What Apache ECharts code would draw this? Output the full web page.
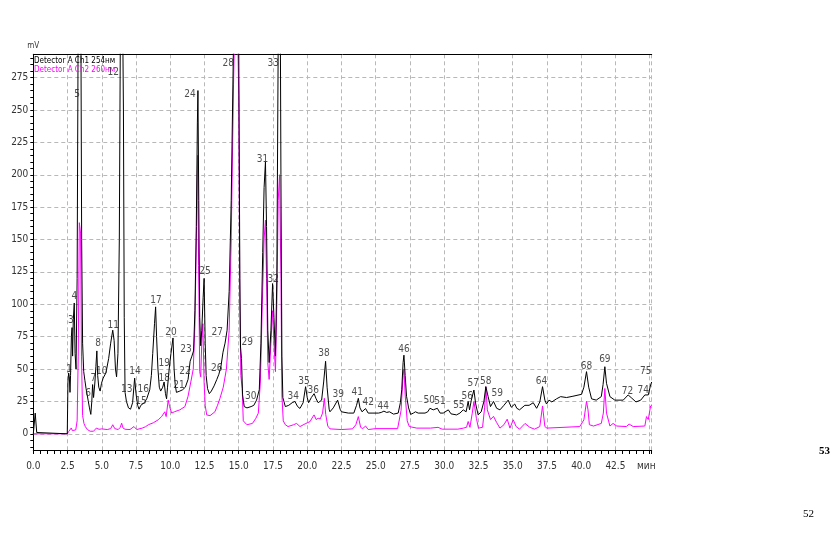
<!DOCTYPE html>
<html><head><meta charset="utf-8">
<script src="https://cdn.jsdelivr.net/npm/echarts@6/dist/echarts.min.js"></script>
<style>html,body{margin:0;padding:0;background:#fff}#c{width:840px;height:556px}</style>
</head><body><div id="c"></div>
<script>
const ch1Name = 'Detector A Ch1 254нм';
const ch2Name = 'Detector A Ch2 260нм';
const xMin = 0, xMax = 45.15, xStep = 2.5;
const yMin = -12.5, yMax = 293;
const yTicksMajor = [0,25,50,75,100,125,150,175,200,225,250,275];
const yTicksMinor = [-10,-5,0,5,10,15,20,25,30,35,40,45,50,55,60,65,70,75,80,85,90,95,100,105,110,115,120,125,130,135,140,145,150,155,160,165,170,175,180,185,190,195,200,205,210,215,220,225,230,235,240,245,250,255,260,265,270,275,280,285,290];

// Ch1 (254 nm) — [time min, mV]
const ch1 = [[0,0],[0.12,0],[0.14,16],[0.22,16],[0.25,1],[0.35,0],[2.48,0],
[2.53,40],[2.58,47],[2.63,44],[2.68,32],[2.72,45],[2.78,75],[2.83,82],[2.87,60],[2.92,88],[2.99,101],[3.05,62],[3.12,50],[3.2,120],[3.28,330],[3.38,420],[3.47,330],[3.53,150],[3.6,70],[3.68,48],[3.77,41],[3.85,35],[3.92,34],[4.0,26],[4.1,20],[4.2,15],[4.27,25],[4.33,38],[4.4,28],[4.5,40],[4.57,52],[4.64,64],[4.7,45],[4.78,36],[4.88,33],[4.98,39],[5.1,43],[5.3,47],[5.5,58],[5.65,70],[5.8,80],[5.9,72],[6.0,50],[6.08,44],[6.18,62],[6.28,150],[6.38,360],[6.48,380],[6.58,250],[6.64,90],[6.7,32],[6.8,25],[6.95,20],[7.1,19],[7.25,24],[7.4,43],[7.5,31],[7.62,22],[7.72,19],[7.85,22],[7.95,21],[8.1,24],[8.28,27],[8.5,34],[8.62,45],[8.72,62],[8.85,85],[8.93,98],[9.0,75],[9.1,50],[9.2,36],[9.3,33],[9.45,36],[9.55,40],[9.65,31],[9.73,27],[9.8,36],[9.92,50],[10.05,62],[10.2,74],[10.28,50],[10.36,38],[10.45,32],[10.7,33],[10.9,34],[11.1,36],[11.3,42],[11.45,56],[11.58,60],[11.7,64],[11.8,95],[11.9,160],[11.98,240],[12.02,265],[12.08,180],[12.15,90],[12.22,68],[12.3,80],[12.4,105],[12.47,120],[12.55,70],[12.62,45],[12.72,35],[12.85,31],[13.0,33],[13.2,37],[13.4,42],[13.55,46],[13.7,52],[13.85,63],[14.0,70],[14.15,80],[14.3,110],[14.45,180],[14.6,290],[14.8,420],[15.0,300],[15.08,120],[15.13,67],[15.2,58],[15.28,30],[15.4,21],[15.6,20],[15.9,21],[16.1,22],[16.3,26],[16.5,34],[16.62,70],[16.75,140],[16.85,190],[16.95,210],[17.03,160],[17.12,80],[17.22,55],[17.35,80],[17.47,116],[17.57,90],[17.68,60],[17.78,120],[17.88,300],[17.98,460],[18.08,200],[18.15,60],[18.22,28],[18.4,21],[18.65,22],[18.9,24],[19.1,25],[19.3,21],[19.47,19.6],[19.7,24],[19.88,36.4],[20.0,28],[20.1,24],[20.3,28],[20.5,31],[20.65,27],[20.8,24],[21.05,26],[21.2,40],[21.34,56],[21.45,36],[21.6,19],[21.66,17],[21.9,20],[22.22,26],[22.4,19],[22.5,17],[23.0,16],[23.4,16],[23.6,22],[23.73,27.4],[23.85,20],[24.0,17],[24.26,19.5],[24.45,16],[24.8,16],[25.2,16],[25.4,16.5],[25.6,17.5],[25.8,16.5],[26.0,17],[26.3,15.2],[26.64,16],[26.8,24],[26.9,34],[27.0,55],[27.06,60.7],[27.15,45],[27.25,29],[27.4,20],[27.55,15],[27.75,16],[27.9,17],[28.1,16],[28.6,16],[28.8,17],[28.96,19.7],[29.2,18.5],[29.5,19.7],[29.7,16],[29.93,16],[30.3,18.5],[30.5,15.4],[30.9,14.6],[31.15,16],[31.39,18.5],[31.6,17],[31.75,25],[31.85,18.5],[31.98,26],[32.17,33.8],[32.3,23],[32.48,14.6],[32.7,17],[32.9,25],[33.04,36.4],[33.2,29],[33.38,21],[33.6,25],[33.83,19.7],[34.07,18.5],[34.36,22],[34.67,26],[34.9,20.5],[35.15,23],[35.3,19.7],[35.5,18.5],[35.89,22],[36.2,22],[36.5,24],[36.75,19.7],[36.98,24.6],[37.18,36.4],[37.35,26],[37.47,23],[37.65,26],[37.86,24.6],[38.2,27],[38.5,28.7],[38.93,28],[39.4,29],[40.03,30.5],[40.2,36],[40.39,48],[40.55,36],[40.76,27],[41.1,26],[41.47,28.7],[41.6,38],[41.73,51.8],[41.85,39],[42.1,28.7],[42.46,26],[43.07,26],[43.43,30],[43.7,27.5],[44.0,24.6],[44.35,26],[44.65,30],[44.9,30],[45.07,37.7],[45.15,40]];

// Ch2 (260 nm) — [time min, mV]
const ch2 = [[0,0],[2.48,0],[2.6,2],[2.68,3.3],[2.77,4.5],[2.85,2.5],[2.95,2],[3.1,3],[3.2,10],[3.28,60],[3.36,163],[3.45,155],[3.52,60],[3.6,14],[3.7,8],[3.8,5.5],[3.95,3.3],[4.15,2],[4.4,2],[4.6,4.4],[4.8,3.5],[5.0,3.8],[5.4,3.3],[5.65,4],[5.8,7],[5.95,4],[6.2,3.3],[6.35,5],[6.45,8.2],[6.55,4.5],[6.7,3.5],[7.06,3.3],[7.35,5.6],[7.55,3.3],[7.95,4.4],[8.2,5.5],[8.4,7],[8.76,8.5],[9.12,10.8],[9.37,13.3],[9.6,17],[9.7,13.3],[9.85,26],[9.95,21],[10.1,16],[10.3,17],[10.7,18.5],[11.07,21],[11.3,29],[11.5,40],[11.68,50],[11.8,84],[11.92,160],[12.0,215],[12.07,130],[12.15,48],[12.22,44],[12.3,70],[12.38,85],[12.47,40],[12.55,22],[12.66,14.6],[12.9,14],[13.26,17],[13.45,22],[13.63,27.4],[13.87,36],[14.1,50],[14.3,80],[14.45,150],[14.62,270],[14.82,380],[15.0,260],[15.08,100],[15.15,45],[15.25,35],[15.33,10],[15.6,7],[16.0,8],[16.25,12],[16.43,16],[16.58,40],[16.72,100],[16.85,150],[16.95,165],[17.03,120],[17.12,55],[17.22,42],[17.35,70],[17.47,95],[17.57,70],[17.68,48],[17.78,100],[17.88,180],[17.98,200],[18.08,120],[18.15,30],[18.25,10],[18.4,7],[18.6,5.6],[19.0,7],[19.22,8],[19.47,5.6],[19.9,8],[20.2,9.4],[20.4,13],[20.5,14.6],[20.65,11],[20.8,12],[20.95,11.5],[21.12,16],[21.25,27.4],[21.35,15],[21.5,6],[21.66,3.8],[22.5,3.3],[23.3,3.8],[23.55,7],[23.73,13.3],[23.9,5],[24.05,4],[24.26,6],[24.45,3.3],[25.0,4],[26.6,4],[26.85,18],[27.0,45],[27.06,50],[27.15,30],[27.3,10],[27.45,5.6],[28.0,4.4],[29.0,4.4],[29.55,5],[29.68,6.2],[29.85,3.6],[31.0,3.6],[31.4,4.4],[31.63,5],[31.75,9.5],[31.88,5],[32.05,16],[32.17,25],[32.35,12],[32.5,4.4],[32.8,5],[32.95,20],[33.04,36.4],[33.15,18.5],[33.38,11],[33.6,13.5],[33.83,8.7],[34.07,4.4],[34.36,7],[34.6,11.3],[34.8,4.4],[35.04,10.8],[35.25,5.6],[35.5,3.6],[35.9,8],[36.25,5],[36.6,3.6],[36.98,5.6],[37.18,21.5],[37.35,5.6],[37.5,4.4],[39.9,5.6],[40.2,10.8],[40.39,25],[40.5,18.5],[40.6,7],[40.9,6],[41.47,8],[41.62,16],[41.73,35],[41.85,16],[42.1,6],[42.33,8],[42.6,6],[43.3,5.6],[43.5,7.5],[43.8,5.6],[44.65,6],[44.77,13.3],[44.9,11],[45.07,21.5],[45.15,22]];

// peak number annotations — [time min, mV, label]
const peakLabels = [[2.61,50,'1'],[2.75,87.7,'3'],[2.99,106,'4'],[3.19,262,'5'],[4.01,31,'6'],[4.38,43,'7'],[4.74,70,'8'],[4.99,48,'10'],[5.84,84,'11'],[5.84,279,'12'],[6.82,34,'13'],[7.42,48,'14'],[7.86,25,'15'],[8.03,34,'16'],[8.96,103,'17'],[9.56,43,'18'],[9.56,54,'19'],[10.05,78,'20'],[10.64,37.7,'21'],[11.07,48,'22'],[11.15,65,'23'],[11.44,262,'24'],[12.53,125,'25'],[13.39,50.5,'26'],[13.43,78,'27'],[14.24,285.6,'28'],[15.62,70.5,'29'],[15.87,28.7,'30'],[16.74,211.5,'31'],[17.52,119,'32'],[17.52,285.6,'33'],[18.98,28.7,'34'],[19.76,40.8,'35'],[20.44,33.8,'36'],[21.22,62,'38'],[22.26,30.8,'39'],[23.65,32,'41'],[24.45,24,'42'],[25.55,21.5,'44'],[27.06,65,'46'],[28.9,26,'50'],[29.69,25,'51'],[31.07,22.3,'55'],[31.68,29,'56'],[32.12,39,'57'],[33.04,40.8,'58'],[33.87,31,'59'],[37.1,40.8,'64'],[40.39,51.8,'68'],[41.73,57.4,'69'],[43.39,32.6,'72'],[44.53,33.8,'74'],[44.72,48,'75']];

const FONT = "'Liberation Sans Narrow','DejaVu Sans Condensed','Liberation Sans',sans-serif";
const chart = echarts.init(document.getElementById('c'), null, {renderer: 'canvas'});
const gridLine = {color: '#b8b8b8', width: 1, type: [4, 3]};
chart.setOption({
  animation: false,
  backgroundColor: '#fff',
  grid: {left: 33.3, right: 188.3, top: 54.3, bottom: 106},
  legend: {
    left: 24, top: 51, orient: 'vertical', icon: 'none', itemWidth: 0, itemHeight: 10, itemGap: 0,
    textStyle: {fontFamily: FONT, fontSize: 8},
    data: [{name: ch1Name, textStyle: {color: '#000'}}, {name: ch2Name, textStyle: {color: '#ff00ff'}}],
    selectedMode: false
  },
  xAxis: [{
    type: 'value', min: xMin, max: xMax, interval: xStep, position: 'bottom',
    axisLine: {show: true, onZero: false, lineStyle: {color: '#000', width: 1}},
    axisTick: {show: true, length: 4, lineStyle: {color: '#000'}},
    minorTick: {show: true, splitNumber: 5, length: 4, lineStyle: {color: '#000'}},
    axisLabel: {fontFamily: FONT, fontSize: 10, color: '#333', margin: 11,
      formatter: v => v >= 45 ? '' : v.toFixed(1)},
    splitLine: {show: true, lineStyle: gridLine}
  }, {
    type: 'value', min: xMin, max: xMax, position: 'top',
    axisLine: {show: true, onZero: false, lineStyle: {color: '#000', width: 1}},
    axisTick: {show: false}, axisLabel: {show: false}, splitLine: {show: false}
  }],
  yAxis: [{
    type: 'value', min: yMin, max: yMax, position: 'left',
    name: 'mV', nameLocation: 'end', nameGap: 4,
    nameTextStyle: {fontFamily: FONT, fontSize: 8, color: '#333', align: 'center'},
    axisLine: {show: true, onZero: false, lineStyle: {color: '#000', width: 1}},
    axisTick: {show: true, length: 3, lineStyle: {color: '#000'}, customValues: yTicksMinor},
    axisLabel: {show: false},
    splitLine: {show: false}
  }, {
    type: 'value', min: yMin, max: yMax, position: 'left',
    axisLine: {show: false, onZero: false},
    axisTick: {show: false, customValues: yTicksMajor},
    axisLabel: {show: true, customValues: yTicksMajor, fontFamily: FONT, fontSize: 10, color: '#333', margin: 5},
    splitLine: {show: true, lineStyle: gridLine}
  }],
  series: [{
    name: ch2Name, type: 'line', data: ch2, xAxisIndex: 0, yAxisIndex: 0,
    showSymbol: false, symbol: 'none', clip: true, z: 2,
    lineStyle: {color: '#ff00ff', width: 1}, itemStyle: {color: '#ff00ff'}
  }, {
    name: ch1Name, type: 'line', data: ch1, xAxisIndex: 0, yAxisIndex: 0,
    showSymbol: false, symbol: 'none', clip: true, z: 3,
    lineStyle: {color: '#000', width: 1}, itemStyle: {color: '#000'}
  }, {
    name: 'peaks', type: 'scatter', xAxisIndex: 0, yAxisIndex: 0, z: 4, silent: true,
    symbolSize: 0, itemStyle: {color: 'rgba(0,0,0,0)'},
    data: peakLabels.map(p => ({value: [p[0], p[1]], name: p[2]})),
    label: {show: true, position: 'inside', formatter: '{b}', fontFamily: FONT, fontSize: 10, color: '#222'}
  }],
  graphic: [
    {type: 'text', left: 637, top: 461, style: {text: 'мин', fontFamily: FONT, fontSize: 10, fill: '#333'}},
    {type: 'text', left: 819, top: 446, style: {text: '53', fontFamily: "'Liberation Serif',serif", fontSize: 11, fontWeight: 'bold', fill: '#000'}},
    {type: 'text', left: 803, top: 509, style: {text: '52', fontFamily: "'Liberation Serif',serif", fontSize: 11, fill: '#000'}}
  ]
});
</script></body></html>
